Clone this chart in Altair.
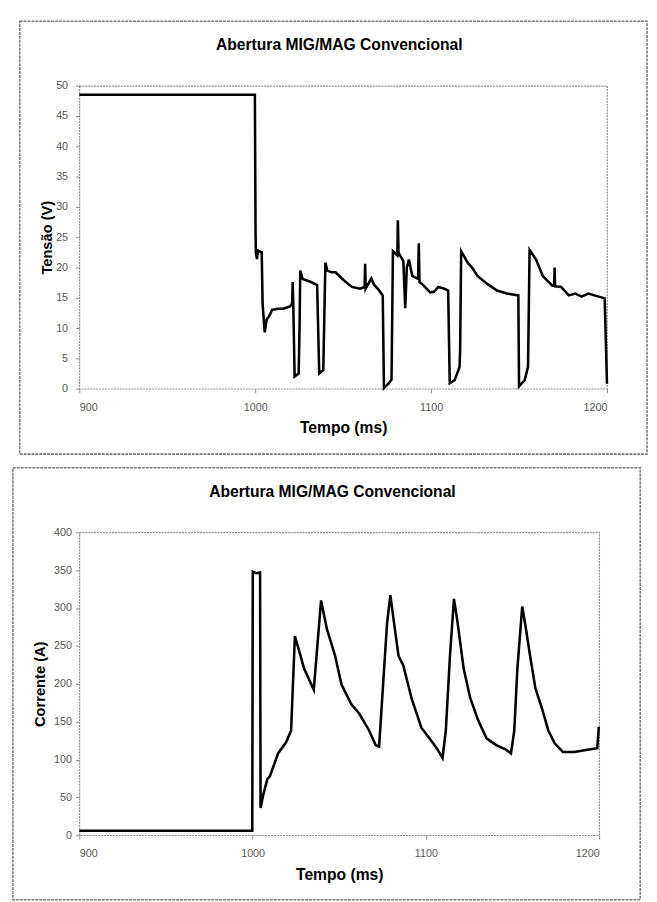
import altair as alt
import pandas as pd

TITLE = "Abertura MIG/MAG Convencional"

# Tensão (V) vs Tempo (ms)
volt_t = [900, 999.8, 1000.2, 1000.4, 1001, 1001.5, 1003.7, 1004.2, 1005.4, 1006.5, 1008, 1009.6,
          1013, 1016, 1020, 1021, 1021.3, 1021.6, 1022.4, 1024.7, 1025.2, 1025.6, 1027, 1031.7,
          1035.2, 1036.4, 1038.7, 1039.3, 1039.9, 1041, 1043.4, 1045.7, 1050.3, 1055, 1059.7,
          1062.2, 1062.5, 1062.8, 1066, 1067.5, 1070.2, 1072.5, 1073.2, 1076, 1077.5, 1078.3,
          1080.8, 1081.1, 1081.5, 1084.2, 1085.3, 1086.2, 1087.4, 1089.3, 1092.6, 1093.0, 1093.4,
          1094.8, 1099.5, 1101.6, 1104.1, 1107.5, 1109.7, 1110.6, 1113.4, 1116.2, 1116.5, 1117.1,
          1120.8, 1123.8, 1126.4, 1131.9, 1137.5, 1143, 1149.6, 1150, 1153.2, 1155.1,
          1156, 1159.7, 1163.5, 1166.9, 1169, 1170, 1170.2, 1170.5, 1173.9,
          1178.3, 1182, 1185.5, 1189.4, 1198.7, 1200]
volt_v = [48.5, 48.5, 25.5, 22.4, 21.4, 22.8, 22.5, 14.0, 9.3, 11.4, 12.0, 13.0,
          13.2, 13.2, 13.6, 14.1, 17.6, 14.5, 2.0, 2.5, 10.0, 19.5, 18.1, 17.6,
          17.1, 2.5, 3.1, 12.0, 20.8, 19.5, 19.2, 19.2, 17.9, 16.8, 16.5,
          16.8, 20.6, 16.5, 18.2, 17.2, 16.3, 15.4, 0.1, 0.9, 1.5, 22.7,
          22.0, 27.8, 22.4, 21.1, 13.3, 20.0, 21.3, 18.6, 18.1, 24.0, 17.6,
          17.3, 15.9, 16.0, 16.8, 16.5, 16.2, 0.9, 1.4, 3.6, 6.3, 22.7,
          20.8, 19.8, 18.6, 17.3, 16.2, 15.7, 15.4, 0.4, 1.4, 3.6,
          22.9, 21.3, 18.6, 17.6, 17.0, 17.0, 20.0, 16.9, 16.8,
          15.4, 15.7, 15.2, 15.7, 14.9, 0.8]

# Corrente (A) vs Tempo (ms)
curr_t = [900, 999.8, 1000.1, 1002, 1004.3, 1004.6, 1006.1, 1008.5, 1010, 1014.7, 1019.4, 1022.2,
          1024.4, 1026.9, 1029.7, 1035.3, 1039.5, 1042.9, 1047.6, 1051.3, 1057, 1061.7, 1067.3,
          1071, 1073, 1074.8, 1077.6, 1079.5, 1081.4, 1084.2, 1087, 1091.7, 1097.4, 1103,
          1106.8, 1109.6, 1111.5, 1113.9, 1116.2, 1118.1, 1121.8, 1125.6, 1130.3, 1135, 1140.6,
          1146.2, 1149.1, 1151, 1152.8, 1155.6, 1157.5, 1160.4, 1163.2, 1166.9, 1170.7, 1174.4,
          1179.1, 1185.7, 1193.2, 1198.9, 1199.8]
curr_a = [6, 6, 348, 346, 347, 36, 53, 74, 78, 108, 123, 138,
          263, 243, 220, 192, 310, 272, 237, 199, 173, 160, 138,
          119, 117, 181, 280, 317, 284, 237, 224, 181, 142, 125,
          113, 102, 138, 237, 312, 284, 220, 181, 151, 128, 119,
          113, 108, 138, 220, 302, 276, 233, 194, 168, 138, 121,
          110, 110, 113, 115, 143]

x_ticks = [900, 1000, 1100, 1200]
volt_ticks = list(range(0, 51, 5))
curr_ticks = list(range(0, 401, 50))

volt_df = pd.DataFrame({"t": volt_t, "v": volt_v, "i": range(len(volt_t))})
curr_df = pd.DataFrame({"t": curr_t, "v": curr_a, "i": range(len(curr_t))})

LABEL_FONT = "Liberation Sans"
GRAY = "#8a8a8a"


def panel(df, ymax, yticks, ytitle, w, h, border, title_xy, lab_pad, title_pad):
    x_axis = alt.Axis(values=x_ticks, format="d", title="Tempo (ms)", tickSize=4,
                      labelPadding=9, titlePadding=8, domain=False, grid=False,
                      tickColor=GRAY, labelColor="#555", labelFont=LABEL_FONT, labelFontSize=11,
                      titleFont=LABEL_FONT, titleFontSize=16, titleFontWeight="bold",
                      titleColor="black")
    y_axis = alt.Axis(values=yticks, format="d", title=ytitle, tickSize=4,
                      labelPadding=lab_pad, titlePadding=title_pad, domain=False, grid=False,
                      tickColor=GRAY, labelColor="#555", labelFont=LABEL_FONT, labelFontSize=11,
                      titleFont=LABEL_FONT, titleFontSize=15, titleFontWeight="bold",
                      titleColor="black")
    line = alt.Chart(df).mark_line(color="black", strokeWidth=2.6, strokeJoin="miter").encode(
        x=alt.X("t:Q", scale=alt.Scale(domain=[900, 1200], nice=False, zero=False), axis=x_axis),
        y=alt.Y("v:Q", scale=alt.Scale(domain=[0, ymax], nice=False), axis=y_axis),
        order="i:Q",
    )
    one = pd.DataFrame({"title": [TITLE]})
    bx1, bx2, by1, by2 = border
    rect = alt.Chart(one).mark_rect(fillOpacity=0, stroke="#7a7a7a", strokeWidth=1.6,
                                    strokeDash=[3, 1]).encode(
        x=alt.value(bx1), x2=alt.value(bx2), y=alt.value(by1), y2=alt.value(by2))
    ttl = alt.Chart(one).mark_text(font=LABEL_FONT, fontSize=16, fontWeight="bold",
                                   color="black", baseline="middle", align="center").encode(
        text="title:N", x=alt.value(title_xy[0]), y=alt.value(title_xy[1]))
    return alt.layer(rect, ttl, line).properties(width=w, height=h)


top = panel(volt_df, 50, volt_ticks, "Tensão (V)", 540, 310,
            (-61, 581, -66, 377), (266, -42), 8, 1)
bottom = panel(curr_df, 400, curr_ticks, "Corrente (A)", 532, 310,
               (-68, 574, -66, 376), (259, -41), 4, 6)

chart = alt.concat(top, bottom, columns=1, spacing=10, align="none").properties(
    padding={"left": 3, "top": 1, "right": 0, "bottom": 0}
).configure_view(stroke=GRAY, strokeDash=[2, 1], strokeWidth=1.2)

chart.save("out.html", embed_options={"renderer": "svg", "actions": False})
